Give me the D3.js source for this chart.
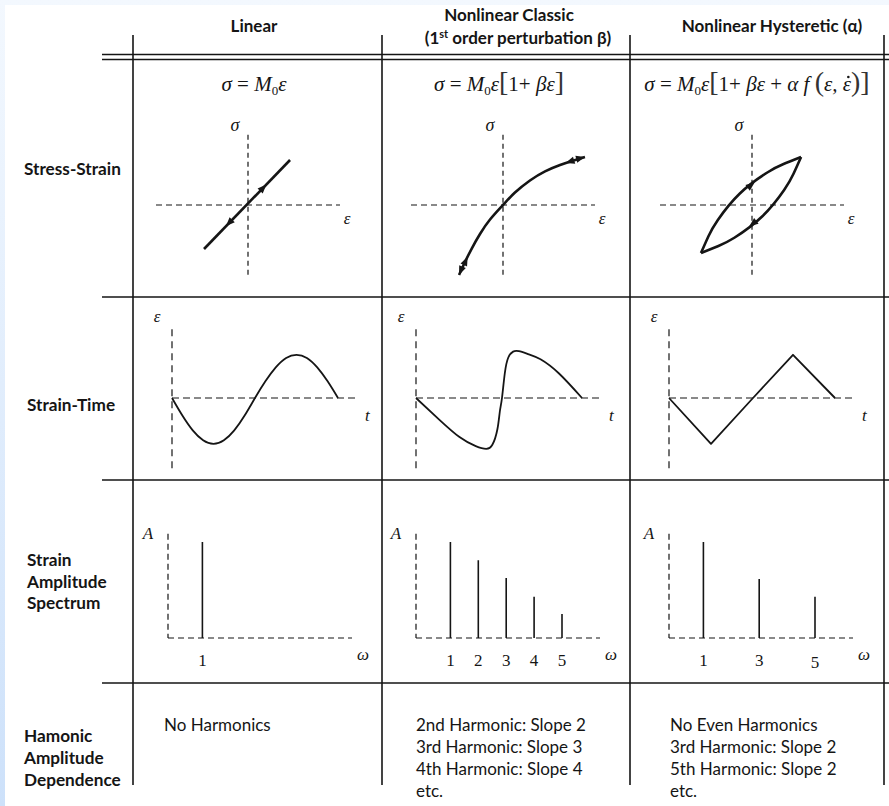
<!DOCTYPE html>
<html><head><meta charset="utf-8">
<script src="https://cdn.jsdelivr.net/npm/d3@7"></script>
<style>
html,body{margin:0;padding:0;}
body{width:889px;height:806px;overflow:hidden;background:#fff;}
</style></head><body>
<svg id="c" width="889" height="806"></svg>
<script>
// ---------- data ----------
const headers = [["Linear"], ["Nonlinear Classic", "(1st order perturbation β)"], ["Nonlinear Hysteretic (α)"]];
const rowLabels = [["Stress-Strain"], ["Strain-Time"], ["Strain", "Amplitude", "Spectrum"], ["Hamonic", "Amplitude", "Dependence"]];
// stress-strain curves (ε, σ)
const linearSS = [[-0.478, -0.62], [0.457, 0.634]];
const classicSS = [[-0.478, -0.986], [-0.413, -0.803], [-0.337, -0.606], [-0.25, -0.408], [-0.141, -0.205], [0, 0], [0.13, 0.175], [0.293, 0.345], [0.457, 0.474], [0.62, 0.563], [0.75, 0.62], [0.891, 0.676]];
const hystUpper = [[-0.554, -0.676], [-0.472, -0.437], [-0.373, -0.215], [-0.132, 0.162], [0.171, 0.461], [0.343, 0.577], [0.533, 0.676]];
const hystLower = [[-0.554, -0.676], [-0.365, -0.577], [-0.192, -0.461], [0.11, -0.162], [0.351, 0.215], [0.45, 0.437], [0.533, 0.676]];
// arrowheads: [tailε, tailσ, tipε, tipσ]
const linearArrows = [[0.1, 0.155, 0.2, 0.289], [-0.14, -0.166, -0.24, -0.30]];
const classicArrows = [[0.80, 0.645, 0.891, 0.676], [0.78, 0.633, 0.68, 0.59], [-0.45, -0.90, -0.478, -0.986], [-0.41, -0.80, -0.385, -0.73]];
const hystArrows = [[-0.07, 0.22, 0.03, 0.32], [0.07, -0.2, -0.03, -0.30]];
// strain-time (t, ε)
const linearST = [[0, 0], [0.0625, -0.39], [0.125, -0.72], [0.1875, -0.94], [0.25, -1.02], [0.3125, -0.94], [0.375, -0.72], [0.4375, -0.39], [0.5, 0], [0.5625, 0.37], [0.625, 0.68], [0.6875, 0.89], [0.75, 0.96], [0.8125, 0.89], [0.875, 0.68], [0.9375, 0.37], [1, 0]];
const classicST = [[0, 0], [0.143, -0.49], [0.262, -0.867], [0.36, -1.07], [0.423, -1.13], [0.46, -1.04], [0.49, -0.7], [0.505, -0.3], [0.518, 0], [0.535, 0.55], [0.556, 0.9], [0.585, 1.03], [0.62, 1.04], [0.68, 0.97], [0.75, 0.86], [0.86, 0.55], [1, 0]];
const hystST = [[0, 0], [0.253, -1.02], [0.506, 0], [0.747, 0.96], [1, 0]];
// spectra
const linearHarm = [1], linearAmp = [1], linearTicks = ["1"];
const classicHarm = [1, 2, 3, 4, 5], classicAmp = [1, 0.81, 0.625, 0.43, 0.25], classicTicks = ["1", "2", "3", "4", "5"];
const hystHarm = [1, 3, 5], hystAmp = [1, 0.615, 0.43], hystTicks = ["1", "3", "5"];
// notes
const notes = [["No Harmonics"], ["2nd Harmonic: Slope 2", "3rd Harmonic: Slope 3", "4th Harmonic: Slope 4", "etc."], ["No Even Harmonics", "3rd Harmonic: Slope 2", "5th Harmonic: Slope 2", "etc."]];

// ---------- layout ----------
const svg = d3.select("#c");
const SANS = "Lato, 'Open Sans', sans-serif";
const SERIF = "'Liberation Serif', 'DejaVu Serif', serif";
const INK = "#151515";

const defs = svg.append("defs");
const lg = defs.append("linearGradient").attr("id", "bg").attr("x1", 0).attr("y1", 0).attr("x2", 0).attr("y2", 1);
lg.append("stop").attr("offset", "0%").attr("stop-color", "#f3f8fe");
lg.append("stop").attr("offset", "100%").attr("stop-color", "#cde1fa");
svg.append("rect").attr("width", 889).attr("height", 806).attr("fill", "url(#bg)");
svg.append("rect").attr("x", 5).attr("y", 5).attr("width", 884).attr("height", 801).attr("fill", "#fff");

const colX = [133, 382, 630, 884];
const grid = svg.append("g").attr("stroke", INK).attr("stroke-width", 1.6);
colX.forEach(x => grid.append("line").attr("x1", x).attr("x2", x).attr("y1", 35).attr("y2", 785));
[54.5, 59.5, 297, 480, 683].forEach(y => grid.append("line").attr("x1", 102).attr("x2", 889).attr("y1", y).attr("y2", y));

// headers
const headerPos = [[[254, 26]], [[509, 15], [518, 38]], [[772, 26]]];
headers.forEach((lines, i) => lines.forEach((s, j) => {
  const t = svg.append("text").attr("x", headerPos[i][j][0]).attr("y", headerPos[i][j][1]).attr("dy", "0.35em")
    .attr("text-anchor", "middle").attr("font-family", SANS).attr("font-weight", 700).attr("font-size", 17).attr("fill", INK);
  if (s.startsWith("(1st")) {
    t.append("tspan").text("(1");
    t.append("tspan").text("st").attr("font-size", 11).attr("dy", -6);
    t.append("tspan").text(" order perturbation β)").attr("dy", 6);
  } else t.text(s);
}));

// row labels
const rowPos = [[24, [169]], [27, [405]], [27, [560, 582, 603]], [24, [736, 758, 780]]];
rowLabels.forEach((lines, i) => lines.forEach((s, j) => {
  svg.append("text").attr("x", rowPos[i][0]).attr("y", rowPos[i][1][j]).attr("dy", "0.35em")
    .attr("font-family", SANS).attr("font-weight", 700).attr("font-size", 17.2).attr("fill", INK).text(s);
}));

// equations
const eqs = [
  [["σ", 1], [" = ", 0], ["M", 1], ["0", 0, "sub"], ["ε", 1]],
  [["σ", 1], [" = ", 0], ["M", 1], ["0", 0, "sub"], ["ε", 1], ["[", 0, "big"], ["1+ ", 0], ["βε", 1], ["]", 0, "big"]],
  [["σ", 1], [" = ", 0], ["M", 1], ["0", 0, "sub"], ["ε", 1], ["[", 0, "big"], ["1+ ", 0], ["βε", 1], [" + ", 0], ["α f ", 1], ["(", 0, "big"], ["ε, ", 1], ["ε", 1, "dotted"], [")", 0, "big"], ["]", 0, "big"]]
];
const eqX = [254, 499, 757];
eqs.forEach((segs, i) => {
  const t = svg.append("text").attr("x", eqX[i]).attr("y", 91).attr("text-anchor", "middle")
    .attr("font-family", SERIF).attr("font-size", 21).attr("fill", INK);
  let shift = 0;
  const dotted = [];
  segs.forEach(([s, it, kind]) => {
    const sp = t.append("tspan").text(s).attr("font-style", it ? "italic" : "normal");
    if (kind === "sub") { sp.attr("font-size", 13).attr("dy", 4 - shift); shift = 4; }
    else { if (shift) { sp.attr("dy", -shift); shift = 0; } }
    if (kind === "big") sp.attr("font-size", 28).attr("fill", "#333");
    if (kind === "dotted") dotted.push(sp);
  });
  dotted.forEach(sp => {
    const b = sp.node().getBBox();
    svg.append("circle").attr("cx", b.x + b.width * 0.62).attr("cy", 91 - 14).attr("r", 1.3).attr("fill", INK);
  });
});

// ---------- stress-strain ----------
const ssOX = [248, 503, 752], ssOY = 205;
const ssCurves = [[linearSS], [classicSS], [hystUpper, hystLower]];
const ssArrows = [linearArrows, classicArrows, hystArrows];
function arrowHead(g, x1, y1, x2, y2, len = 9, w = 3.6) {
  const a = Math.atan2(y2 - y1, x2 - x1) * 180 / Math.PI;
  g.append("path").attr("d", `M0,0L${-len},${-w}L${-len},${w}Z`).attr("fill", INK)
    .attr("transform", `translate(${x2},${y2}) rotate(${a})`);
}
ssOX.forEach((ox, i) => {
  const x = d3.scaleLinear().domain([-1, 1]).range([ox - 92, ox + 92]);
  const y = d3.scaleLinear().domain([-1, 1]).range([ssOY + 71, ssOY - 71]);
  const g = svg.append("g");
  g.append("line").attr("x1", x(-1)).attr("x2", x(1)).attr("y1", y(0)).attr("y2", y(0))
    .attr("stroke", INK).attr("stroke-width", 1.2).attr("stroke-dasharray", "6,4");
  g.append("line").attr("x1", x(0)).attr("x2", x(0)).attr("y1", y(0.99)).attr("y2", y(-1))
    .attr("stroke", INK).attr("stroke-width", 1.2).attr("stroke-dasharray", "5,4");
  g.append("text").attr("x", x(0) - 13).attr("y", y(1.13)).attr("dy", "0.35em").attr("text-anchor", "middle")
    .attr("font-family", SERIF).attr("font-style", "italic").attr("font-size", 18).attr("fill", INK).text("σ");
  g.append("text").attr("x", x(1) + 7).attr("y", y(-0.18)).attr("dy", "0.35em").attr("text-anchor", "middle")
    .attr("font-family", SERIF).attr("font-style", "italic").attr("font-size", 17).attr("fill", INK).text("ε");
  const line = d3.line().x(d => x(d[0])).y(d => y(d[1])).curve(i === 0 ? d3.curveLinear : d3.curveNatural);
  ssCurves[i].forEach(c => g.append("path").attr("d", line(c)).attr("fill", "none").attr("stroke", INK).attr("stroke-width", 2.6).attr("stroke-linejoin", "round"));
  ssArrows[i].forEach(a => arrowHead(g, x(a[0]), y(a[1]), x(a[2]), y(a[3])));
});

// ---------- strain-time ----------
const stOX = [172, 416, 669], stOY = 398;
const stCurves = [linearST, classicST, hystST];
stOX.forEach((ox, i) => {
  const x = d3.scaleLinear().domain([0, 1]).range([ox, ox + 166]);
  const y = d3.scaleLinear().domain([-1, 1]).range([stOY + 45, stOY - 45]);
  const g = svg.append("g");
  g.append("line").attr("x1", x(0)).attr("x2", x(1.11)).attr("y1", y(0)).attr("y2", y(0))
    .attr("stroke", INK).attr("stroke-width", 1.2).attr("stroke-dasharray", "7,4");
  g.append("line").attr("x1", x(0)).attr("x2", x(0)).attr("y1", y(1.53)).attr("y2", y(-1.6))
    .attr("stroke", INK).attr("stroke-width", 1.2).attr("stroke-dasharray", "7,5");
  g.append("text").attr("x", x(0) - 15).attr("y", y(1.82)).attr("dy", "0.35em").attr("text-anchor", "middle")
    .attr("font-family", SERIF).attr("font-style", "italic").attr("font-size", 17).attr("fill", INK).text("ε");
  g.append("text").attr("x", x(1.11) + 11).attr("y", y(-0.37)).attr("dy", "0.35em").attr("text-anchor", "middle")
    .attr("font-family", SERIF).attr("font-style", "italic").attr("font-size", 17).attr("fill", INK).text("t");
  const line = d3.line().x(d => x(d[0])).y(d => y(d[1])).curve(i === 2 ? d3.curveLinear : d3.curveNatural);
  g.append("path").attr("d", line(stCurves[i])).attr("fill", "none").attr("stroke", INK).attr("stroke-width", 1.8).attr("stroke-linejoin", "round");
});

// ---------- spectra ----------
const spOX = [168, 416, 669], spBase = 638;
const spec = [[linearHarm, linearAmp, linearTicks], [classicHarm, classicAmp, classicTicks], [hystHarm, hystAmp, hystTicks]];
spOX.forEach((ox, i) => {
  const x = d3.scaleLinear().domain([1, 5]).range([ox + 34.4, ox + 146]);
  const y = d3.scaleLinear().domain([0, 1]).range([spBase, spBase - 96]);
  const g = svg.append("g");
  const [h, a, tk] = spec[i];
  g.append("line").attr("x1", ox).attr("x2", ox + 184).attr("y1", y(0)).attr("y2", y(0))
    .attr("stroke", INK).attr("stroke-width", 1.2).attr("stroke-dasharray", "6,4");
  g.append("line").attr("x1", ox).attr("x2", ox).attr("y1", y(1.085)).attr("y2", y(0))
    .attr("stroke", INK).attr("stroke-width", 1.2).attr("stroke-dasharray", "6,4");
  g.selectAll(".bar").data(h).join("line")
    .attr("x1", d => x(d)).attr("x2", d => x(d)).attr("y1", y(0)).attr("y2", (d, k) => y(a[k]))
    .attr("stroke", INK).attr("stroke-width", 1.6);
  g.selectAll(".tk").data(h).join("text")
    .attr("x", d => x(d)).attr("y", (d, k) => (i === 2 && k === 2 ? 662 : 660)).attr("dy", "0.35em").attr("text-anchor", "middle")
    .attr("font-family", SERIF).attr("font-size", 17).attr("fill", INK).text((d, k) => tk[k]);
  g.append("text").attr("x", ox - 20).attr("y", y(1.09)).attr("dy", "0.35em").attr("text-anchor", "middle")
    .attr("font-family", SERIF).attr("font-style", "italic").attr("font-size", 17).attr("fill", INK).text("A");
  g.append("text").attr("x", ox + 195).attr("y", 654).attr("dy", "0.35em").attr("text-anchor", "middle")
    .attr("font-family", SERIF).attr("font-style", "italic").attr("font-size", 17).attr("fill", INK).text("ω");
});

// ---------- notes ----------
const noteX = [164, 416, 670];
notes.forEach((lines, i) => lines.forEach((s, j) => {
  svg.append("text").attr("x", noteX[i]).attr("y", 725 + 22 * j).attr("dy", "0.35em")
    .attr("font-family", SANS).attr("font-size", 17).attr("fill", INK).text(s);
}));
</script>
</body></html>
